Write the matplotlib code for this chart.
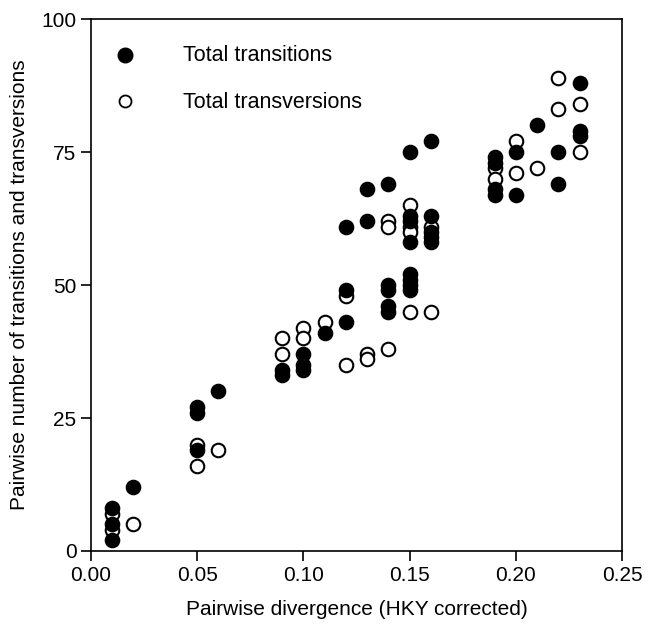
import matplotlib
matplotlib.use("Agg")
import matplotlib.pyplot as plt

plt.rcParams['font.family'] = ['Liberation Sans', 'DejaVu Sans']

# total transitions (filled circles)
ts_x = [0.01, 0.01, 0.01, 0.02, 0.05, 0.05, 0.05, 0.06, 0.09, 0.09,
        0.10, 0.10, 0.10, 0.11, 0.12, 0.12, 0.12, 0.13, 0.13,
        0.14, 0.14, 0.14, 0.14, 0.14,
        0.15, 0.15, 0.15, 0.15, 0.15, 0.15, 0.15, 0.15,
        0.16, 0.16, 0.16, 0.16, 0.16,
        0.19, 0.19, 0.19, 0.19, 0.20, 0.20, 0.21, 0.22, 0.22,
        0.23, 0.23, 0.23]
ts_y = [8, 5, 2, 12, 27, 26, 19, 30, 34, 33,
        37, 35, 34, 41, 61, 49, 43, 68, 62,
        69, 50, 49, 46, 45,
        75, 63, 62, 58, 52, 51, 50, 49,
        77, 63, 60, 59, 58,
        74, 73, 68, 67, 75, 67, 80, 75, 69,
        88, 79, 78]

# total transversions (open circles)
tv_x = [0.01, 0.01, 0.02, 0.05, 0.05, 0.06, 0.09, 0.09, 0.10, 0.10,
        0.11, 0.12, 0.12, 0.13, 0.13, 0.14, 0.14, 0.14,
        0.15, 0.15, 0.15, 0.15, 0.16, 0.16,
        0.19, 0.19, 0.20, 0.20, 0.21, 0.22, 0.22, 0.23, 0.23]
tv_y = [7, 4, 5, 20, 16, 19, 40, 37, 42, 40,
        43, 48, 35, 37, 36, 62, 61, 38,
        65, 61, 60, 45, 61, 45,
        72, 70, 77, 71, 72, 89, 83, 84, 75]

x_ticks = [0.00, 0.05, 0.10, 0.15, 0.20, 0.25]
y_ticks = [0, 25, 50, 75, 100]


def main():
    fig = plt.figure(figsize=(6.48, 6.35), dpi=100)
    ax = fig.add_axes([0.1404, 0.1323, 0.8196, 0.8377])

    ax.scatter(tv_x, tv_y, s=95, facecolors='white', edgecolors='black',
               linewidths=1.5, zorder=2)
    ax.scatter(ts_x, ts_y, s=105, color='black', zorder=3)

    ax.set_xlim(0, 0.25)
    ax.set_ylim(0, 100)
    ax.set_xticks(x_ticks)
    ax.set_xticklabels([f"{t:.2f}" for t in x_ticks])
    ax.set_yticks(y_ticks)
    ax.tick_params(direction='out', length=7, width=1.2, labelsize=15)
    for sp in ax.spines.values():
        sp.set_linewidth(1.2)

    ax.set_xlabel('Pairwise divergence (HKY corrected)', fontsize=15,
                  labelpad=11)
    ax.set_ylabel('Pairwise number of transitions and transversions',
                  fontsize=15, labelpad=9)

    # legend drawn by hand, like the original
    ax.scatter([0.016], [93.3], s=110, color='black', clip_on=False)
    ax.scatter([0.016], [84.6], s=75, facecolors='white',
               edgecolors='black', linewidths=1.3, clip_on=False)
    ax.text(0.0433, 93.1, 'Total transitions', fontsize=15.5, va='center')
    ax.text(0.0433, 84.4, 'Total transversions', fontsize=15.5,
            va='center')

    fig.savefig('out.png', dpi=100)


if __name__ == "__main__":
    main()
